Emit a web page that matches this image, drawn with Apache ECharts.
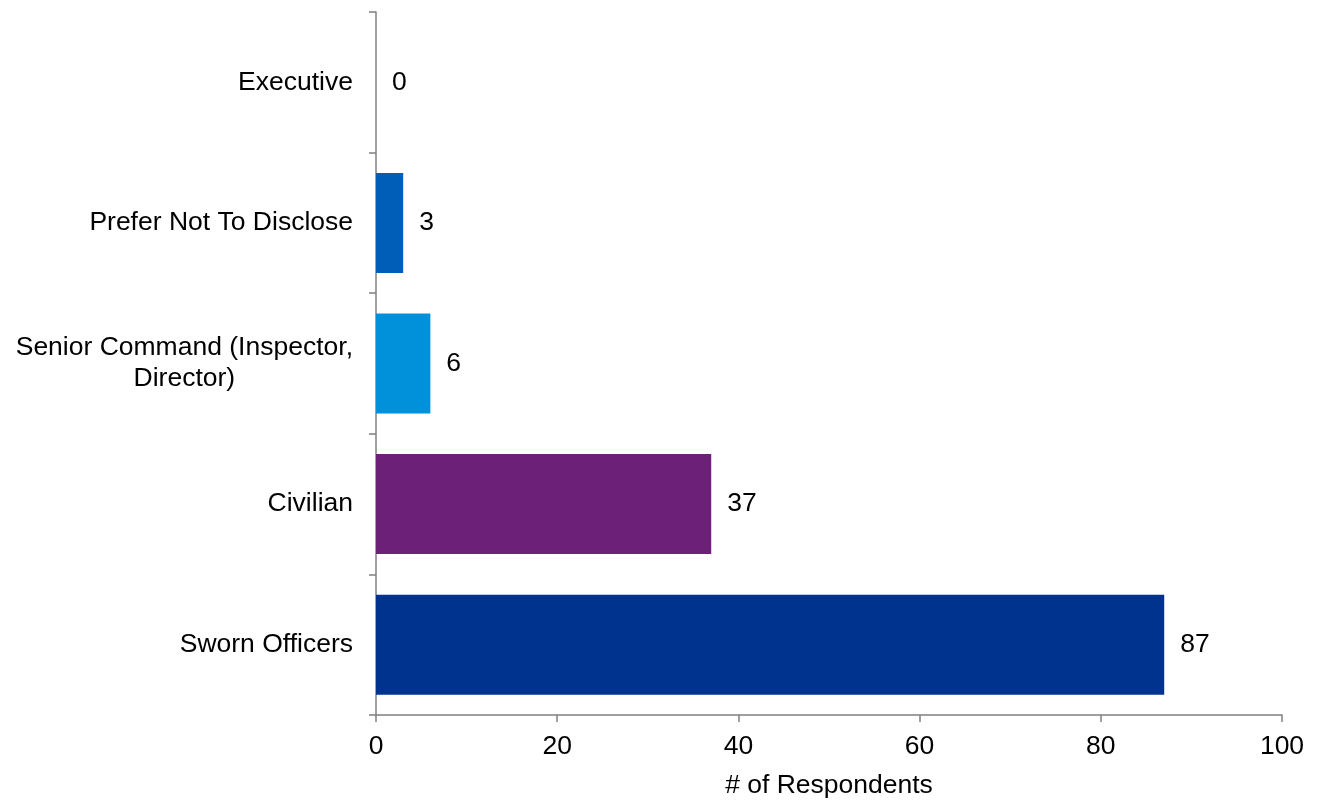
<!DOCTYPE html>
<html>
<head>
<meta charset="utf-8">
<script src="https://cdn.jsdelivr.net/npm/echarts@6/dist/echarts.min.js"></script>
<style>html,body{margin:0;padding:0;background:#fff}#c{width:1325px;height:804px}</style>
</head>
<body>
<div id="c"></div>
<script>
const categories = ["Sworn Officers", "Civilian", "Senior Command (Inspector,\nDirector)", "Prefer Not To Disclose", "Executive"];
const values = [87, 37, 6, 3, 0];
const barColors = ["#00338D", "#6D2077", "#0091DA", "#005EB8", "#005EB8"];
const xTicks = [0, 20, 40, 60, 80, 100];
const xAxisName = "# of Respondents";

const chart = echarts.init(document.getElementById('c'));
const font = 'Liberation Sans, Arial, sans-serif';
const fs = 26.5;
chart.setOption({
  animation: false,
  grid: {left: 376, right: 43, top: 12, bottom: 85, containLabel: false},
  xAxis: {
    type: 'value', min: xTicks[0], max: xTicks[xTicks.length-1], interval: 20,
    name: xAxisName, nameLocation: 'middle', nameGap: 57,
    nameTextStyle: {fontFamily: font, fontSize: fs, color: '#000'},
    axisLine: {show: true, lineStyle: {color: '#808080', width: 1.5}},
    axisTick: {show: true, length: 7, lineStyle: {color: '#808080', width: 1.5}},
    axisLabel: {fontFamily: font, fontSize: fs, color: '#000', margin: 18},
    splitLine: {show: false}
  },
  yAxis: {
    type: 'category', data: categories,
    axisLine: {show: true, lineStyle: {color: '#808080', width: 1.5}},
    axisTick: {show: true, length: 7, lineStyle: {color: '#808080', width: 1.5}},
    axisLabel: {
      fontFamily: font, fontSize: fs, color: '#000', margin: 23, lineHeight: 31,
      formatter: v => v.split('\n').map(s => '{a|' + s + '}').join('\n'),
      rich: {a: {fontFamily: font, fontSize: fs, color: '#000', align: 'center', lineHeight: 31}}
    }
  },
  series: [{
    type: 'bar', data: values.map((v, i) => ({value: v, itemStyle: {color: barColors[i]}})),
    barWidth: 100,
    label: {show: true, position: 'right', distance: 16, fontFamily: font, fontSize: fs, color: '#000'}
  }]
});
</script>
</body>
</html>
